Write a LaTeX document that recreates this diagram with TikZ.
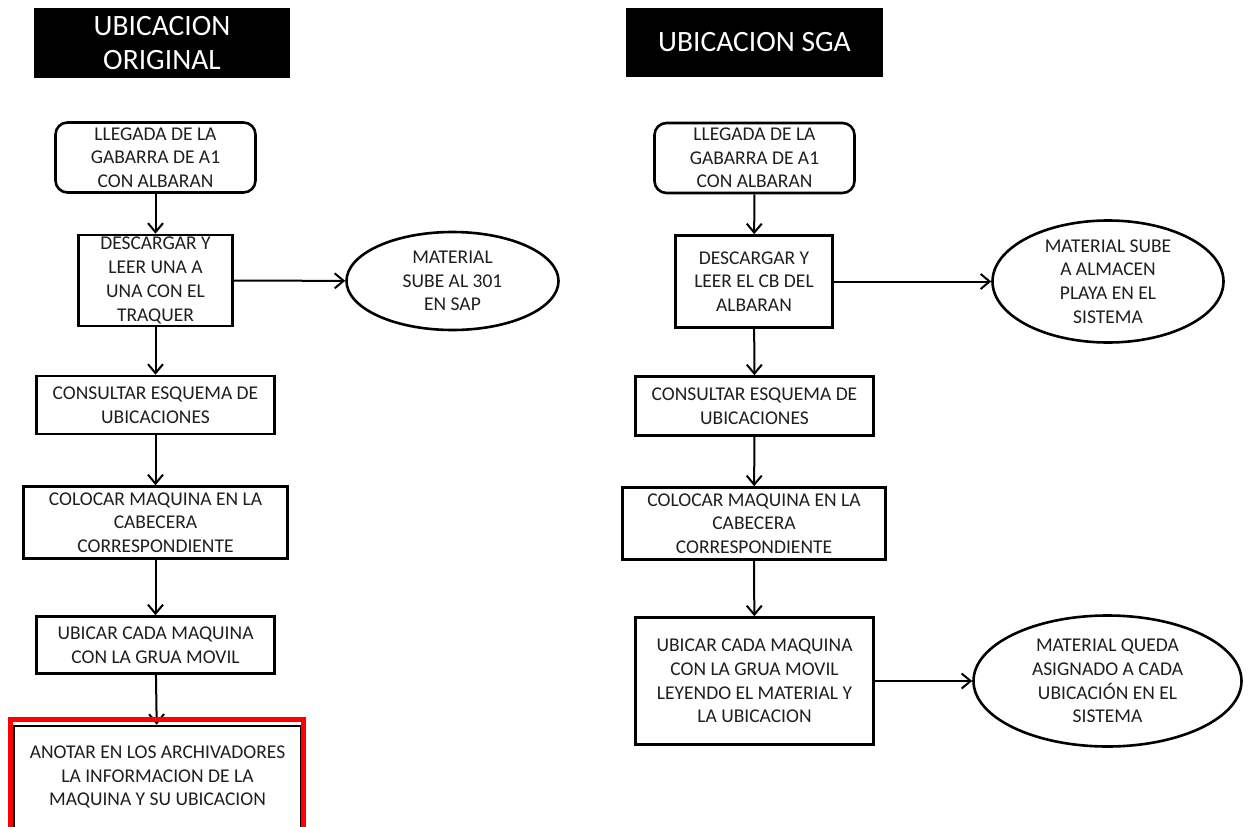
\documentclass[tikz,border=0pt]{standalone}
\usepackage{fontspec}
\setmainfont{Carlito}
\usetikzlibrary{shapes.geometric,arrows.meta}
\begin{document}
\begin{tikzpicture}[x=1pt,y=-1pt,
  every node/.style={inner sep=0pt, align=center,
    font=\fontsize{19.5}{23.7}\selectfont, text=black!88},
  header/.style={fill=black, text=white, font=\fontsize{29.5}{34}\selectfont},
  stepbox/.style={draw, rectangle, line width=2.6pt},
  startbox/.style={stepbox, rounded corners=12pt},
  result/.style={draw, ellipse, line width=2.6pt},
  flow/.style={line width=2pt, -{Straight Barb[length=9pt,width=15pt,line width=2pt]}},
]
\useasboundingbox (0,0) rectangle (1248,827);
\fill[white] (0,0) rectangle (1248,827);

% ---- left column: original process ----
\node[header, minimum width=256pt, minimum height=70pt] (h1) at (162,43)
  {\raisebox{-2pt}{\parbox{250pt}{\centering UBICACION\\ORIGINAL}}};
\node[startbox, minimum width=200pt, minimum height=70pt] (n1) at (155.5,157.5)
  {LLEGADA DE LA\\GABARRA DE A1\\CON ALBARAN};
\node[stepbox, minimum width=154pt, minimum height=91pt] (n2) at (155.5,280.5)
  {DESCARGAR Y\\LEER UNA A\\UNA CON EL\\TRAQUER};
\node[result, minimum width=212pt, minimum height=98pt] (e1) at (452.5,281)
  {MATERIAL\\SUBE AL 301\\EN SAP};
\node[stepbox, minimum width=238pt, minimum height=58pt] (n3) at (155.5,405)
  {CONSULTAR ESQUEMA DE\\UBICACIONES};
\node[stepbox, minimum width=264pt, minimum height=72pt] (n4) at (155.5,522.5)
  {COLOCAR MAQUINA EN LA\\CABECERA\\CORRESPONDIENTE};
\node[stepbox, minimum width=238pt, minimum height=57pt] (n5) at (155.5,645)
  {UBICAR CADA MAQUINA\\CON LA GRUA MOVIL};
\node[stepbox, minimum width=287pt, minimum height=102pt] (n6) at (157.5,777)
  {ANOTAR EN LOS ARCHIVADORES\\LA INFORMACION DE LA\\MAQUINA Y SU UBICACION};

\draw[flow] (n1) -- (n2);
\draw[flow] (n2) -- (e1);
\draw[flow] (n2) -- (n3);
\draw[flow] (n3) -- (n4);
\draw[flow] (n4) -- (n5);
\draw[flow] (n5) -- (n6);

% highlight around the last step
\draw[red, line width=5pt] (10.5,719.5) rectangle (303.5,845);

% ---- right column: SGA process ----
\node[header, minimum width=257pt, minimum height=69pt] (h2) at (754.5,42)
  {UBICACION SGA};
\node[startbox, minimum width=200pt, minimum height=70pt] (r1) at (754.5,158)
  {LLEGADA DE LA\\GABARRA DE A1\\CON ALBARAN};
\node[stepbox, minimum width=157pt, minimum height=92pt] (r2) at (754,281.5)
  {DESCARGAR Y\\LEER EL CB DEL\\ALBARAN};
\node[result, minimum width=231pt, minimum height=122pt] (e2) at (1108,281.5)
  {MATERIAL SUBE\\A ALMACEN\\PLAYA EN EL\\SISTEMA};
\node[stepbox, minimum width=238pt, minimum height=59pt] (r3) at (754.5,406)
  {CONSULTAR ESQUEMA DE\\UBICACIONES};
\node[stepbox, minimum width=263pt, minimum height=72pt] (r4) at (754,523.5)
  {COLOCAR MAQUINA EN LA\\CABECERA\\CORRESPONDIENTE};
\node[stepbox, minimum width=238pt, minimum height=127pt] (r5) at (754.5,681)
  {UBICAR CADA MAQUINA\\CON LA GRUA MOVIL\\LEYENDO EL MATERIAL Y\\LA UBICACION};
\node[result, minimum width=268pt, minimum height=131pt] (e3) at (1107.5,681)
  {MATERIAL QUEDA\\ASIGNADO A CADA\\UBICACIÓN EN EL\\SISTEMA};

\draw[flow] (r1) -- (r2);
\draw[flow] (r2) -- (e2);
\draw[flow] (r2) -- (r3);
\draw[flow] (r3) -- (r4);
\draw[flow] (r4) -- (r5);
\draw[flow] (r5) -- (e3);
\end{tikzpicture}
\end{document}
